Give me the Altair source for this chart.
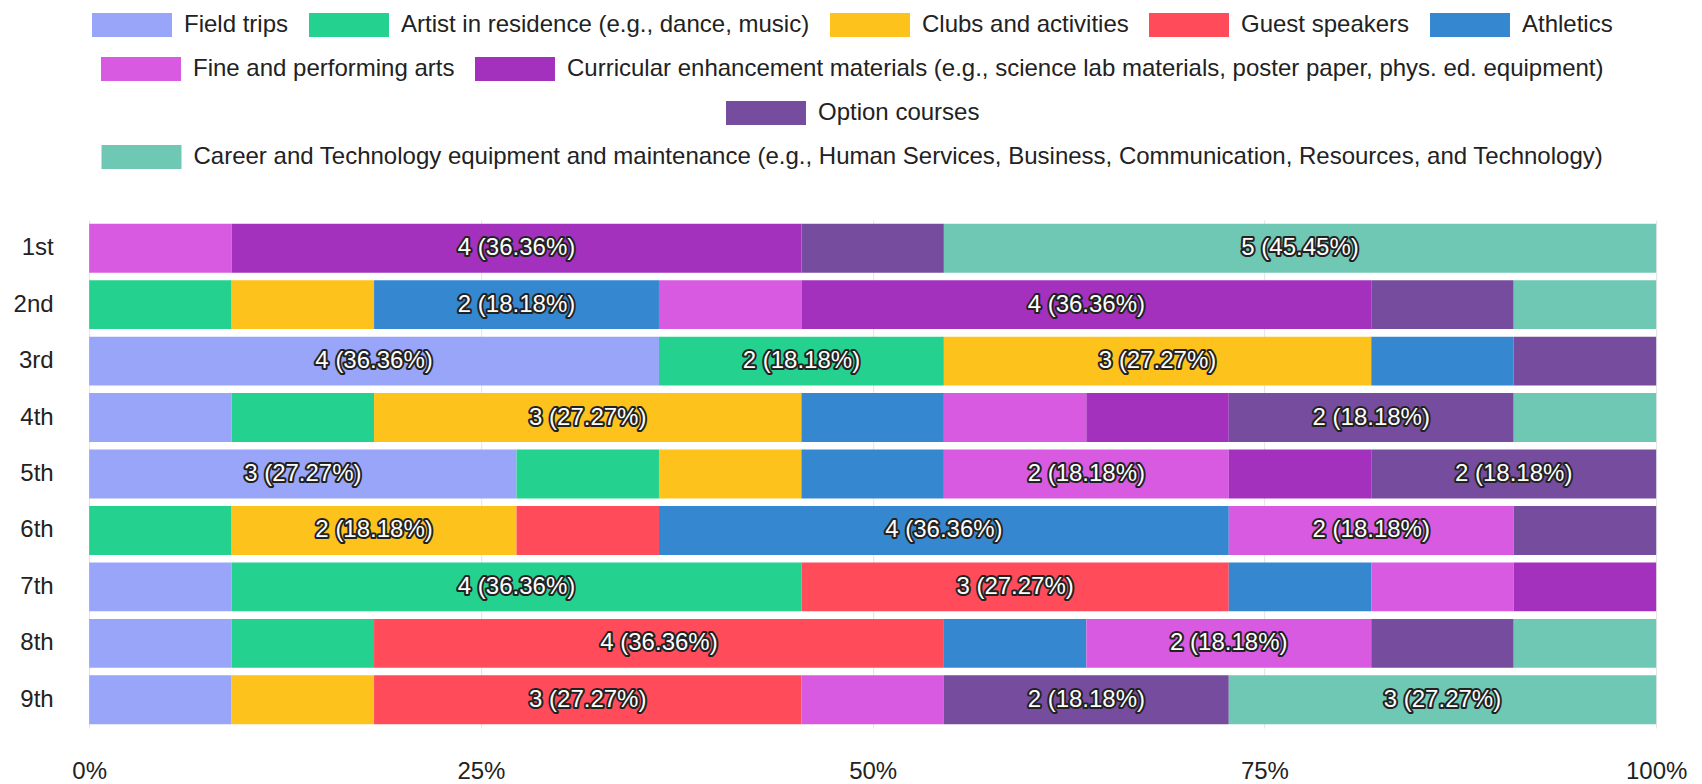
import altair as alt
import pandas as pd

# ---- data ----
grades = ["1st", "2nd", "3rd", "4th", "5th", "6th", "7th", "8th", "9th"]

categories = [
    "Field trips",
    "Artist in residence (e.g., dance, music)",
    "Clubs and activities",
    "Guest speakers",
    "Athletics",
    "Fine and performing arts",
    "Curricular enhancement materials (e.g., science lab materials, poster paper, phys. ed. equipment)",
    "Option courses",
    "Career and Technology equipment and maintenance (e.g., Human Services, Business, Communication, Resources, and Technology)",
]

colors = ["#98a5f9", "#25d18f", "#fec21d", "#ff4b5a", "#3588d0",
          "#d75ae0", "#a331bd", "#764c9f", "#6fc8b4"]

field_trips = [0, 0, 4, 1, 3, 0, 1, 1, 1]
artist_in_residence = [0, 1, 2, 1, 1, 1, 4, 1, 0]
clubs_activities = [0, 1, 3, 3, 1, 2, 0, 0, 1]
guest_speakers = [0, 0, 0, 0, 0, 1, 3, 4, 3]
athletics = [0, 2, 1, 1, 1, 4, 1, 1, 0]
fine_arts = [1, 1, 0, 1, 2, 2, 1, 2, 1]
curricular = [4, 4, 0, 1, 1, 0, 1, 0, 0]
option_courses = [1, 1, 1, 2, 2, 1, 0, 1, 2]
career_tech = [5, 1, 0, 1, 0, 0, 0, 1, 3]

series = [field_trips, artist_in_residence, clubs_activities, guest_speakers,
          athletics, fine_arts, curricular, option_courses, career_tech]

# legend rows as wrapped in the reference
legend_rows = [categories[0:5], categories[5:7], categories[7:8], categories[8:9]]

rows = []
for ci, (cat, vals) in enumerate(zip(categories, series)):
    for g, v in zip(grades, vals):
        if v > 0:
            rows.append({"grade": g, "category": cat, "order": ci, "count": v})
df = pd.DataFrame(rows)

FONT = "Liberation Sans"
TXT = "#222222"

base = alt.Chart(df).transform_stack(
    stack="count", groupby=["grade"], as_=["x0", "x1"], offset="normalize",
    sort=[alt.SortField("order", order="ascending")],
).transform_joinaggregate(
    total="sum(count)", groupby=["grade"]
).transform_calculate(
    mid="(datum.x0 + datum.x1) / 2",
    label="datum.count + ' (' + format(datum.count / datum.total * 100, '.2f') + '%)'",
)

x_axis = alt.Axis(values=[0, 0.25, 0.5, 0.75, 1], format="%", title=None, ticks=False,
                  domain=False, grid=True, gridColor="#e4e4e4", labelFontSize=24,
                  labelPadding=31, labelColor=TXT, labelFont=FONT, labelFlush=False)
x_scale = alt.Scale(domain=[0, 1], nice=False)
y_enc = alt.Y("grade:N", sort=grades,
              scale=alt.Scale(paddingInner=0.133, paddingOuter=0.066),
              axis=alt.Axis(title=None, ticks=False, domain=False, grid=False,
                            labelFontSize=24, labelPadding=36, labelColor=TXT,
                            labelFont=FONT))

bars = base.mark_bar().encode(
    x=alt.X("x0:Q", scale=x_scale, axis=x_axis),
    x2="x1:Q",
    y=y_enc,
    color=alt.Color("category:N", scale=alt.Scale(domain=categories, range=colors),
                    legend=None),
)

txt = base.transform_filter("datum.count >= 2")
outline = txt.mark_text(fontSize=24, font=FONT, stroke="#222222", strokeWidth=4,
                        strokeJoin="round", fill="#222222").encode(
    x=alt.X("mid:Q", scale=x_scale, axis=x_axis), y=y_enc, text="label:N")
fill = txt.mark_text(fontSize=24, font=FONT, fill="white").encode(
    x=alt.X("mid:Q", scale=x_scale, axis=x_axis), y=y_enc, text="label:N")

main = alt.layer(bars, outline, fill).properties(width=1567, height=508)


def legend_chart(cats):
    rng = [colors[categories.index(c)] for c in cats]
    return alt.Chart(pd.DataFrame({"category": cats})).mark_rect(opacity=0).encode(
        color=alt.Color(
            "category:N", sort=cats, scale=alt.Scale(domain=cats, range=rng),
            legend=alt.Legend(
                # an invisible spacer title on the right balances the centring
                title=".", titleOrient="right", titleFontSize=2, titleOpacity=0,
                titlePadding=70,
                orient="top", direction="horizontal", offset=0, padding=0,
                symbolType="M-3.333,-1L3.333,-1L3.333,1L-3.333,1Z", symbolSize=576,
                symbolOffset=28, symbolStrokeWidth=0, symbolOpacity=1,
                labelFontSize=24, labelFont=FONT, labelColor=TXT, labelOffset=40,
                columnPadding=20, labelLimit=3000,
            ),
        )
    ).properties(width=1, height=1)


legends = alt.vconcat(*[legend_chart(c) for c in legend_rows], spacing=19, center=True
                      ).resolve_scale(color="independent").resolve_legend(color="independent")

chart = alt.vconcat(legends, main, spacing=50, center=True
                    ).resolve_scale(color="independent").resolve_legend(color="independent"
                    ).configure_view(stroke=None)

chart.save("out.html", embed_options={"renderer": "svg", "actions": False})
